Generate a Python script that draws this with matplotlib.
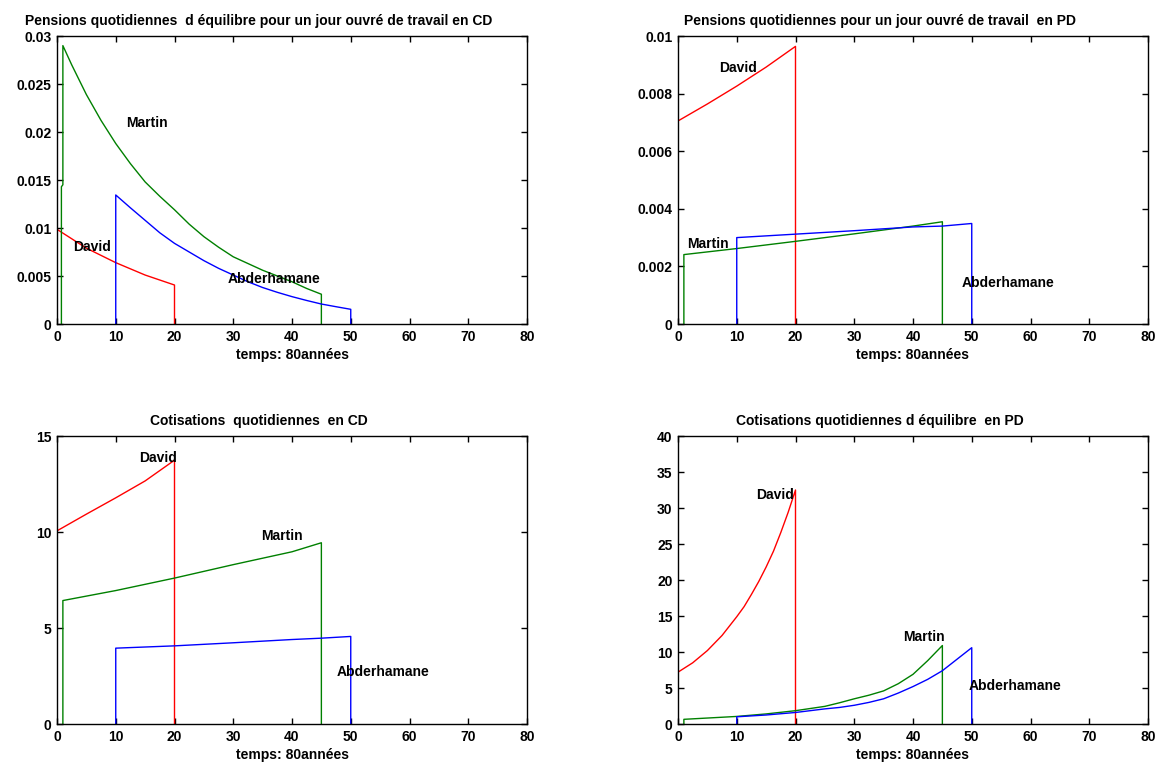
import matplotlib
matplotlib.use("Agg")
import matplotlib.pyplot as plt

plt.rcParams["font.family"] = ["Liberation Sans", "DejaVu Sans"]
plt.rcParams["font.weight"] = "bold"
plt.rcParams["font.size"] = 10

# ---- Data (years, values) ----
# Pensions CD (equilibrium daily pension, CD)
pcd_david_x = [0, 5, 10, 15, 20, 20]
pcd_david_y = [0.00986, 0.0079, 0.00639, 0.0051, 0.00406, 0]
pcd_martin_x = [0.75, 0.75, 1, 1, 2.5, 5, 7.5, 10, 12.5, 15, 17.5, 20, 22.5, 25,
                27.5, 30, 32.5, 35, 37.5, 40, 42.5, 45, 45]
pcd_martin_y = [0, 0.0143, 0.0145, 0.029, 0.0270, 0.0239, 0.0212, 0.0188, 0.0167,
                0.0148, 0.0133, 0.0119, 0.0104, 0.0091, 0.0080, 0.0070, 0.0063,
                0.0056, 0.0050, 0.0044, 0.0037, 0.0031, 0]
pcd_abder_x = [10, 10, 12.5, 15, 17.5, 20, 22.5, 25, 27.5, 30, 32.5, 35, 37.5,
               40, 42.5, 45, 47.5, 50, 50]
pcd_abder_y = [0, 0.01344, 0.0121, 0.0108, 0.0095, 0.0084, 0.0075, 0.0066, 0.0058,
               0.0051, 0.0044, 0.0038, 0.0033, 0.00285, 0.00245, 0.00208, 0.0018,
               0.00153, 0]

# Pensions PD
ppd_david_x = [0, 5, 10, 15, 20, 20]
ppd_david_y = [0.00705, 0.00764, 0.00826, 0.00892, 0.00964, 0]
ppd_martin_x = [1, 1, 10, 20, 30, 40, 45, 45]
ppd_martin_y = [0, 0.00241, 0.00262, 0.00287, 0.00313, 0.0034, 0.00355, 0]
ppd_abder_x = [10, 10, 20, 30, 40, 45, 50, 50]
ppd_abder_y = [0, 0.0030, 0.00312, 0.00324, 0.00337, 0.0034, 0.00349, 0]

# Cotisations CD
ccd_david_x = [0, 5, 10, 15, 20, 20]
ccd_david_y = [10.06, 10.93, 11.78, 12.66, 13.74, 0]
ccd_martin_x = [1, 1, 10, 20, 30, 40, 45, 45]
ccd_martin_y = [0, 6.43, 6.95, 7.6, 8.3, 8.97, 9.44, 0]
ccd_abder_x = [10, 10, 20, 30, 40, 45, 50, 50]
ccd_abder_y = [0, 3.95, 4.07, 4.23, 4.40, 4.47, 4.56, 0]

# Cotisations PD (equilibrium)
cpd_david_x = [0, 2.5, 5, 7.5, 10, 11.25, 12.5, 13.75, 15, 16.25, 17.5, 18.75, 20, 20]
cpd_david_y = [7.2, 8.5, 10.2, 12.3, 14.9, 16.3, 18.0, 19.8, 21.8, 24.0, 26.6,
               29.4, 32.5, 0]
cpd_martin_x = [1, 1, 10, 15, 20, 25, 27.5, 30, 32.5, 35, 37.5, 40, 42.5, 45, 45]
cpd_martin_y = [0, 0.65, 1.05, 1.4, 1.85, 2.45, 2.95, 3.5, 4.0, 4.6, 5.6, 6.9,
                8.8, 10.9, 0]
cpd_abder_x = [10, 10, 15, 20, 25, 27.5, 30, 32.5, 35, 37.5, 40, 42.5, 45, 47.5,
               50, 50]
cpd_abder_y = [0, 1.0, 1.25, 1.6, 2.1, 2.3, 2.6, 3.0, 3.5, 4.3, 5.2, 6.2, 7.4,
               9.0, 10.6, 0]

panels = [
    {
        "title": "Pensions quotidiennes  d équilibre pour un jour ouvré de travail en CD",
        "ylim": 0.03, "yticks": [0, 0.005, 0.01, 0.015, 0.02, 0.025, 0.03],
        "ylabels": ["0", "0.005", "0.01", "0.015", "0.02", "0.025", "0.03"],
        "lines": [(pcd_david_x, pcd_david_y, "red"),
                  (pcd_martin_x, pcd_martin_y, "green"),
                  (pcd_abder_x, pcd_abder_y, "blue")],
        "labels": [("David", 2.7, 0.00807), ("Martin", 11.8, 0.02095),
                   ("Abderhamane", 29.1, 0.00466)],
    },
    {
        "title": "Pensions quotidiennes pour un jour ouvré de travail  en PD",
        "ylim": 0.01, "yticks": [0, 0.002, 0.004, 0.006, 0.008, 0.01],
        "ylabels": ["0", "0.002", "0.004", "0.006", "0.008", "0.01"],
        "lines": [(ppd_david_x, ppd_david_y, "red"),
                  (ppd_martin_x, ppd_martin_y, "green"),
                  (ppd_abder_x, ppd_abder_y, "blue")],
        "labels": [("David", 7.0, 0.00888), ("Martin", 1.5, 0.00278),
                   ("Abderhamane", 48.2, 0.00142)],
    },
    {
        "title": "Cotisations  quotidiennes  en CD",
        "ylim": 15, "yticks": [0, 5, 10, 15],
        "ylabels": ["0", "5", "10", "15"],
        "lines": [(ccd_david_x, ccd_david_y, "red"),
                  (ccd_martin_x, ccd_martin_y, "green"),
                  (ccd_abder_x, ccd_abder_y, "blue")],
        "labels": [("David", 13.9, 13.87), ("Martin", 34.8, 9.8),
                   ("Abderhamane", 47.6, 2.7)],
    },
    {
        "title": "Cotisations quotidiennes d équilibre  en PD",
        "ylim": 40, "yticks": [0, 5, 10, 15, 20, 25, 30, 35, 40],
        "ylabels": ["0", "5", "10", "15", "20", "25", "30", "35", "40"],
        "lines": [(cpd_david_x, cpd_david_y, "red"),
                  (cpd_martin_x, cpd_martin_y, "green"),
                  (cpd_abder_x, cpd_abder_y, "blue")],
        "labels": [("David", 13.3, 31.8), ("Martin", 38.4, 12.05),
                   ("Abderhamane", 49.5, 5.27)],
    },
]

colors = {"red": "#ff0000", "green": "#008000", "blue": "#0000ff"}
xticks = [0, 10, 20, 30, 40, 50, 60, 70, 80]

fig = plt.figure(figsize=(11.58, 7.62), dpi=100)
W, H = 1158, 762
boxes = [(57, 36), (678, 36), (57, 436), (678, 436)]

for p, (left, top) in zip(panels, boxes):
    ax = fig.add_axes([left / W, 1 - (top + 288) / H, 470 / W, 288 / H])
    for x, y, c in p["lines"]:
        ax.plot(x, y, color=colors[c], linewidth=1, solid_capstyle="butt")
    for name, tx, ty in p["labels"]:
        ax.text(tx, ty, name, ha="left", va="center", fontsize=10, fontweight="bold")
    ax.set_xlim(0, 80)
    ax.set_ylim(0, p["ylim"])
    ax.set_xticks(xticks)
    ax.set_xticklabels([str(t) for t in xticks])
    ax.set_yticks(p["yticks"])
    ax.set_yticklabels(p["ylabels"])
    ax.tick_params(direction="in", length=4, width=1, top=True, right=True,
                   labelsize=10, pad=4)
    for s in ax.spines.values():
        s.set_linewidth(1)
    ax.set_xlabel("temps: 80années", fontsize=10, fontweight="bold", labelpad=3)
    ax.set_title(p["title"], fontsize=10, fontweight="bold", x=0.43, pad=8)

fig.savefig("out.png", dpi=100)
